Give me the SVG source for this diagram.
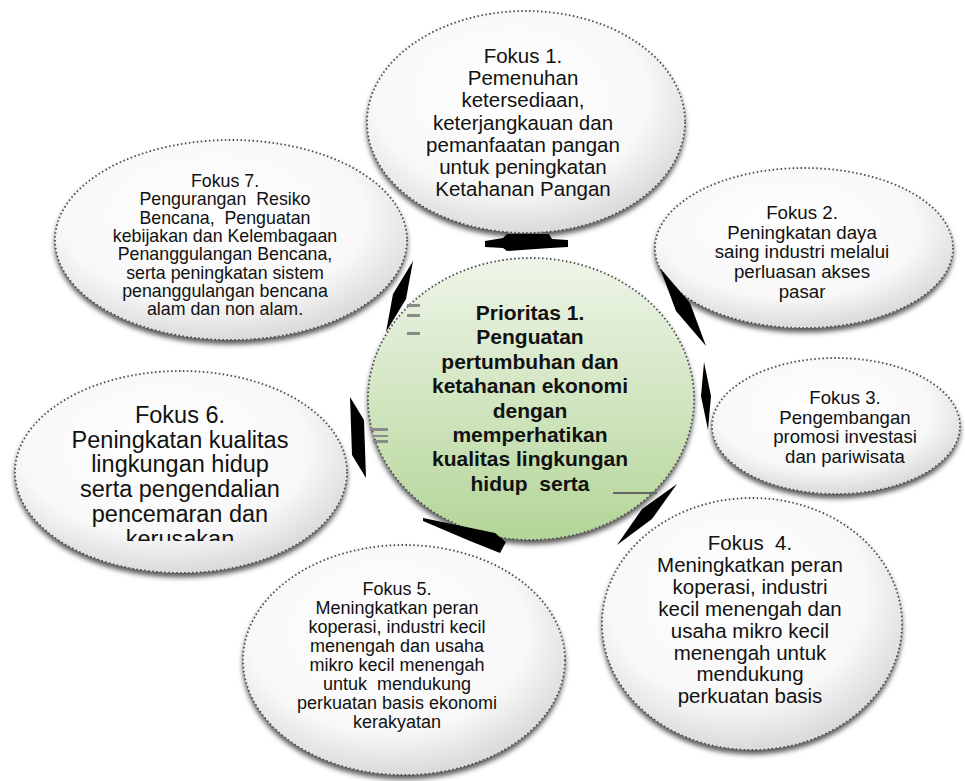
<svg xmlns="http://www.w3.org/2000/svg" width="965" height="781" viewBox="0 0 965 781">
<defs>
<radialGradient id="gGray" cx="45%" cy="38%" r="62%">
<stop offset="0" stop-color="#ffffff"/>
<stop offset="0.7" stop-color="#f8f8f8"/>
<stop offset="1" stop-color="#dadada"/>
</radialGradient>
<linearGradient id="gGreen" x1="0" y1="0" x2="0" y2="1">
<stop offset="0" stop-color="#eef5e8"/>
<stop offset="0.55" stop-color="#cfe4bd"/>
<stop offset="1" stop-color="#b3d597"/>
</linearGradient>
<filter id="sh" x="-10%" y="-10%" width="120%" height="130%">
<feDropShadow dx="0" dy="4" stdDeviation="2.5" flood-color="#000" flood-opacity="0.65"/>
</filter>
<clipPath id="clipF6"><rect x="0" y="380" width="365" height="161"/></clipPath>
</defs>
<style>
.bub{fill:url(#gGray);stroke:#4a4a4a;stroke-width:1.8;stroke-dasharray:1.5 2.5;filter:url(#sh)}
.ctr{fill:url(#gGreen);stroke:#4a4a4a;stroke-width:1.8;stroke-dasharray:1.5 2.5;filter:url(#sh)}
.t{font-family:"Liberation Sans",Arial,sans-serif;fill:#111;text-anchor:middle;white-space:pre}
.tb{font-weight:bold}
.arw{fill:#000}
.art{fill:#8a8a8a}
</style>
<rect width="965" height="781" fill="#fff"/>

<g id="fokus1">
<ellipse class="bub" cx="526" cy="122" rx="159" ry="111"/>
<text class="t" font-size="20.5" x="523" y="63"><tspan x="523">Fokus 1.</tspan><tspan x="523" dy="22.2">Pemenuhan</tspan><tspan x="523" dy="22.2">ketersediaan,</tspan><tspan x="523" dy="22.2">keterjangkauan dan</tspan><tspan x="523" dy="22.2">pemanfaatan pangan</tspan><tspan x="523" dy="22.2">untuk peningkatan</tspan><tspan x="523" dy="22.2">Ketahanan Pangan</tspan></text>
</g>

<g id="fokus7">
<ellipse class="bub" cx="231" cy="240" rx="176" ry="100"/>
<text class="t" font-size="17.8" x="225" y="187"><tspan x="225">Fokus 7.</tspan><tspan x="225" dy="18.3">Pengurangan  Resiko</tspan><tspan x="225" dy="18.3">Bencana,  Penguatan</tspan><tspan x="225" dy="18.3">kebijakan dan Kelembagaan</tspan><tspan x="225" dy="18.3">Penanggulangan Bencana,</tspan><tspan x="225" dy="18.3">serta peningkatan sistem</tspan><tspan x="225" dy="18.3">penanggulangan bencana</tspan><tspan x="225" dy="18.3">alam dan non alam.</tspan></text>
</g>

<g id="fokus2">
<ellipse class="bub" cx="804" cy="248" rx="149" ry="80"/>
<text class="t" font-size="18.7" x="802" y="219"><tspan x="802">Fokus 2.</tspan><tspan x="802" dy="19.7">Peningkatan daya</tspan><tspan x="802" dy="19.7">saing industri melalui</tspan><tspan x="802" dy="19.7">perluasan akses</tspan><tspan x="802" dy="19.7">pasar</tspan></text>
</g>

<g id="fokus3">
<ellipse class="bub" cx="836" cy="426" rx="124" ry="68"/>
<text class="t" font-size="18.6" x="845" y="404"><tspan x="845">Fokus 3.</tspan><tspan x="845" dy="19.6">Pengembangan</tspan><tspan x="845" dy="19.6">promosi investasi</tspan><tspan x="845" dy="19.6">dan pariwisata</tspan></text>
</g>

<g id="fokus6">
<ellipse class="bub" cx="181" cy="472" rx="166" ry="101"/>
<text class="t" font-size="23.5" x="180" y="423" clip-path="url(#clipF6)"><tspan x="180">Fokus 6.</tspan><tspan x="180" dy="24.7">Peningkatan kualitas</tspan><tspan x="180" dy="24.7">lingkungan hidup</tspan><tspan x="180" dy="24.7">serta pengendalian</tspan><tspan x="180" dy="24.7">pencemaran dan</tspan><tspan x="180" dy="24.7">kerusakan</tspan></text>
</g>

<g id="fokus4">
<ellipse class="bub" cx="752" cy="624" rx="150" ry="126"/>
<text class="t" font-size="20.5" x="750" y="550"><tspan x="750">Fokus  4.</tspan><tspan x="750" dy="21.9">Meningkatkan peran</tspan><tspan x="750" dy="21.9">koperasi, industri</tspan><tspan x="750" dy="21.9">kecil menengah dan</tspan><tspan x="750" dy="21.9">usaha mikro kecil</tspan><tspan x="750" dy="21.9">menengah untuk</tspan><tspan x="750" dy="21.9">mendukung</tspan><tspan x="750" dy="21.9">perkuatan basis</tspan></text>
</g>

<g id="fokus5">
<ellipse class="bub" cx="404" cy="660" rx="161" ry="115"/>
<text class="t" font-size="18" x="397" y="595"><tspan x="397">Fokus 5.</tspan><tspan x="397" dy="19">Meningkatkan peran</tspan><tspan x="397" dy="19">koperasi, industri kecil</tspan><tspan x="397" dy="19">menengah dan usaha</tspan><tspan x="397" dy="19">mikro kecil menengah</tspan><tspan x="397" dy="19">untuk  mendukung</tspan><tspan x="397" dy="19">perkuatan basis ekonomi</tspan><tspan x="397" dy="19">kerakyatan</tspan></text>
</g>

<g id="prioritas1">
<ellipse class="ctr" cx="531" cy="399" rx="163" ry="141"/>
<text class="t tb" font-size="21" x="530" y="320"><tspan x="530">Prioritas 1.</tspan><tspan x="530" dy="24.4">Penguatan</tspan><tspan x="530" dy="24.4">pertumbuhan dan</tspan><tspan x="530" dy="24.4">ketahanan ekonomi</tspan><tspan x="530" dy="24.4">dengan</tspan><tspan x="530" dy="24.4">memperhatikan</tspan><tspan x="530" dy="24.4">kualitas lingkungan</tspan><tspan x="530" dy="24.4">hidup  serta</tspan></text>
</g>

<g id="connectors">
<polygon class="arw" points="485,241 503,238 507,234 549,234 552,239 568,240 568,247 550,248 507,251 503,248 485,247"/>
<polygon class="arw" points="660,268 690,303 706,346 676,311"/>
<polygon class="arw" points="704,362 711,396 708,430 701,396"/>
<polygon class="arw" points="617,545 652,519 677,484 642,509"/>
<polygon class="arw" points="423,518 495,533 506,542 500,553 470,541 423,521"/>
<polygon class="arw" points="350,397 364,420 366,478 352,455"/>
<polygon class="arw" points="413,261 406,299 386,332 393,294"/>
<rect class="art" x="407" y="304" width="13" height="3"/>
<rect class="art" x="407" y="314" width="13" height="3"/>
<rect class="art" x="407" y="332" width="13" height="3"/>
<rect class="art" x="370" y="428" width="18" height="3"/>
<rect class="art" x="373" y="435" width="15" height="2"/>
<rect class="art" x="373" y="440" width="15" height="3"/>
<rect fill="#666" x="613" y="492" width="44" height="2"/>
</g>
</svg>
